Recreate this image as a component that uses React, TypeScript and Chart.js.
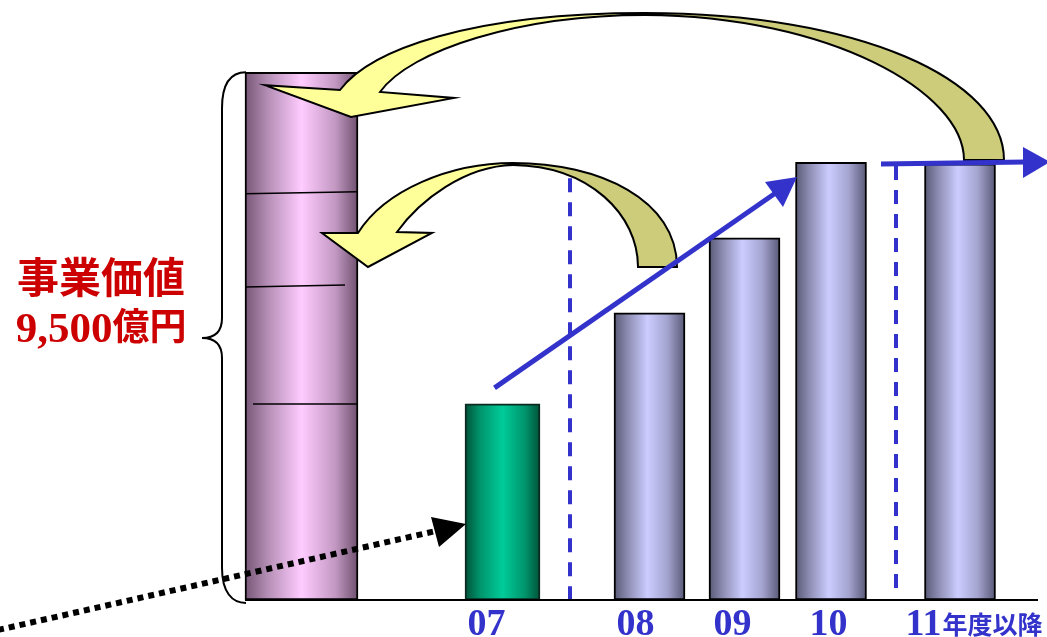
import React, { useEffect, useRef } from 'react';
import { Chart, registerables } from 'chart.js';

Chart.register(...registerables);

// ---- data ----
const periodLabels = ['07', '08', '09', '10', '11'];
const periodSuffix = '年度以降';
const periodPositions = [0, 1.47, 2.42, 3.285, 4.575];
const periodLabelPositions = [-0.16, 1.33, 2.3, 3.26, 4.21];
const actualValues = [3530];
const forecastValues = [5170, 6520, 7880, 7850];
const enterpriseValueLabel = '事業価値';
const enterpriseValueNumber = '9,500';
const enterpriseValueUnit = '億円';
const enterpriseValue = 9500;
const enterpriseValuePosition = -2.01;
const enterpriseValueDividers = [3530, 5650, 7330];
const periodDividerPositions = [0.675, 3.935];
const xMin = -5.025;
const xMax = 5.445;
const yMax = 10800;

const PURPLE_W = 113;
const GREEN_W = 75;
const BLUE_W = 71;
const BLUE = '#3333cc';

type Stop = [number, string];
const purpleStops: Stop[] = [[0, '#765676'], [0.2, '#b48eb4'], [0.5, '#ffccff'], [0.8, '#c298c2'], [1, '#6e506e']];
const blueStops: Stop[] = [[0, '#585876'], [0.2, '#8e8eb4'], [0.47, '#ccccff'], [0.75, '#a4a4d0'], [1, '#585876']];
const greenStops: Stop[] = [[0, '#005238'], [0.2, '#00946c'], [0.5, '#00cc99'], [0.8, '#00946c'], [1, '#005238']];

function gradient(stops: Stop[], width: number) {
  return (ctx: any) => {
    if (ctx.type !== 'data' || !ctx.raw) return stops[2][1];
    const chart = ctx.chart;
    const xs = chart.scales && chart.scales.x;
    if (!xs) return stops[2][1];
    const cx = xs.getPixelForValue(ctx.raw.x);
    if (!Number.isFinite(cx)) return stops[2][1];
    const g = chart.ctx.createLinearGradient(cx - width / 2, 0, cx + width / 2, 0);
    stops.forEach(([o, c]) => g.addColorStop(o, c));
    return g;
  };
}

function arrowHead(c: CanvasRenderingContext2D, pts: number[][], color: string) {
  c.beginPath();
  c.moveTo(pts[0][0], pts[0][1]);
  for (let i = 1; i < pts.length; i++) c.lineTo(pts[i][0], pts[i][1]);
  c.closePath();
  c.fillStyle = color;
  c.fill();
}

const annotations = {
  id: 'annotations',
  afterDatasetsDraw(chart: any) {
    const c: CanvasRenderingContext2D = chart.ctx;
    const X = (v: number) => chart.scales.x.getPixelForValue(v);
    const Y = (v: number) => chart.scales.y.getPixelForValue(v);
    const base = Y(0);
    const pL = X(enterpriseValuePosition) - PURPLE_W / 2;
    const pR = X(enterpriseValuePosition) + PURPLE_W / 2;
    const pTop = Y(enterpriseValue);
    c.save();

    // dividers inside enterprise-value bar
    c.strokeStyle = '#000';
    c.lineWidth = 1.5;
    enterpriseValueDividers.forEach((v, i) => {
      const y = Y(v);
      c.beginPath();
      const x0 = i === 0 ? pL + 8 : pL;
      const x1 = i === 1 ? pR - 13 : pR;
      c.moveTo(x0, y + (i === 0 ? 0 : 1));
      c.lineTo(x1, y - (i === 0 ? 0 : 1));
      c.stroke();
    });

    // dashed period dividers
    c.strokeStyle = BLUE;
    c.lineWidth = 4;
    c.setLineDash([14, 10]);
    const dashTops = [Y(forecastValues[2]) + 16, Y(forecastValues[3]) + 2];
    periodDividerPositions.forEach((p, i) => {
      c.beginPath();
      c.moveTo(X(p), dashTops[i]);
      c.lineTo(X(p), base - (i === 0 ? 0 : 10));
      c.stroke();
    });
    c.setLineDash([]);

    // small curved arrow (from 08-10 area to bar)
    const yellow = '#ffff99';
    const khaki = '#cccc7a';
    c.lineWidth = 2;
    c.strokeStyle = '#000';
    c.lineJoin = 'miter';
    c.beginPath();
    c.moveTo(513, 163);
    c.bezierCurveTo(600, 163, 677, 200, 677, 267);
    c.lineTo(638, 267);
    c.bezierCurveTo(638, 215, 590, 166, 513, 165);
    c.closePath();
    c.fillStyle = khaki;
    c.fill();
    c.stroke();
    c.beginPath();
    c.moveTo(513, 163);
    c.bezierCurveTo(450, 163, 385, 190, 358, 233);
    c.lineTo(322, 233);
    c.lineTo(368, 267);
    c.lineTo(432, 233);
    c.lineTo(397, 232);
    c.bezierCurveTo(420, 200, 465, 166, 513, 165);
    c.closePath();
    c.fillStyle = yellow;
    c.fill();
    c.stroke();

    // big curved arrow (from 11 to enterprise value bar)
    c.beginPath();
    c.moveTo(645, 13);
    c.bezierCurveTo(860, 13, 1004, 80, 1004, 160);
    c.lineTo(964, 160);
    c.bezierCurveTo(964, 92, 830, 16, 645, 15);
    c.closePath();
    c.fillStyle = khaki;
    c.fill();
    c.stroke();
    c.beginPath();
    c.moveTo(645, 13);
    c.bezierCurveTo(470, 13, 370, 50, 340, 90);
    c.lineTo(pL + 20, pTop + 13);
    c.lineTo(351, 117);
    c.lineTo(454, 98);
    c.lineTo(380, 92);
    c.bezierCurveTo(410, 50, 520, 15, 645, 15);
    c.closePath();
    c.fillStyle = yellow;
    c.fill();
    c.stroke();

    // blue trend arrows
    c.strokeStyle = BLUE;
    c.lineWidth = 5;
    c.lineCap = 'butt';
    c.beginPath();
    c.moveTo(X(periodPositions[0]) - 8, Y(actualValues[0]) - 16);
    c.lineTo(777, 192);
    c.stroke();
    arrowHead(c, [[765, 182], [797, 177], [783, 207]], BLUE);
    c.beginPath();
    c.moveTo(881, 164);
    c.lineTo(1025, 162);
    c.stroke();
    arrowHead(c, [[1023, 147], [1050, 162], [1023, 178]], BLUE);

    // dotted black arrow into 07 bar
    c.strokeStyle = '#000';
    c.lineWidth = 6;
    c.setLineDash([6, 5]);
    c.beginPath();
    c.moveTo(-2, 630);
    c.lineTo(436, 531);
    c.stroke();
    c.setLineDash([]);
    arrowHead(c, [[431, 517], [X(periodPositions[0]) - GREEN_W / 2 + 1, 524], [439, 547]], '#000');

    // curly brace
    c.strokeStyle = '#000';
    c.lineWidth = 2;
    c.beginPath();
    c.moveTo(pL + 1, pTop);
    c.bezierCurveTo(pL - 14, pTop, pL - 23, pTop + 10, pL - 23, pTop + 36);
    c.lineTo(pL - 23, 318);
    c.bezierCurveTo(pL - 23, 332, pL - 31, 338, pL - 43, 338);
    c.bezierCurveTo(pL - 31, 338, pL - 23, 344, pL - 23, 358);
    c.lineTo(pL - 23, base - 32);
    c.bezierCurveTo(pL - 23, base - 8, pL - 13, base + 3, pL + 1, base + 3);
    c.stroke();

    // baseline axis
    c.strokeStyle = '#000';
    c.lineWidth = 2;
    c.beginPath();
    c.moveTo(pL, base);
    c.lineTo(1038, base);
    c.stroke();

    // enterprise value label
    c.fillStyle = '#cc0000';
    c.textBaseline = 'alphabetic';
    c.textAlign = 'left';
    c.font = 'bold 42px "Noto Sans CJK JP"';
    const w1 = c.measureText(enterpriseValueLabel).width;
    c.fillText(enterpriseValueLabel, 101 - w1 / 2, 293);
    c.font = 'bold 43px "Liberation Serif"';
    const wn = c.measureText(enterpriseValueNumber).width;
    c.font = 'bold 37px "Noto Sans CJK JP"';
    const wu = c.measureText(enterpriseValueUnit).width;
    const start = 101 - (wn + wu) / 2;
    c.font = 'bold 43px "Liberation Serif"';
    c.fillText(enterpriseValueNumber, start, 342);
    c.font = 'bold 37px "Noto Sans CJK JP"';
    c.fillText(enterpriseValueUnit, start + wn, 340);

    // period labels
    c.fillStyle = BLUE;
    periodLabels.forEach((lab, i) => {
      c.font = 'bold 38px "Liberation Serif"';
      const w = c.measureText(lab).width;
      const lx = X(periodLabelPositions[i]) - w / 2;
      c.fillText(lab, lx, 635);
      if (i === periodLabels.length - 1) {
        c.font = 'bold 25px "Noto Sans CJK JP"';
        c.fillText(periodSuffix, lx + w + 1, 634);
      }
    });

    c.restore();
  },
};

export default function App() {
  const ref = useRef<HTMLCanvasElement | null>(null);
  useEffect(() => {
    if (!ref.current) return;
    const chart = new Chart(ref.current, {
      type: 'bar',
      data: {
        datasets: [
          {
            label: enterpriseValueLabel,
            data: [{ x: enterpriseValuePosition, y: enterpriseValue }],
            barThickness: PURPLE_W,
            backgroundColor: gradient(purpleStops, PURPLE_W),
            borderColor: '#000',
            borderWidth: 2,
            borderSkipped: false,
          },
          {
            label: periodLabels[0],
            data: actualValues.map((v, i) => ({ x: periodPositions[i], y: v })),
            barThickness: GREEN_W,
            backgroundColor: gradient(greenStops, GREEN_W),
            borderColor: '#0a2a20',
            borderWidth: 2,
            borderSkipped: false,
          },
          {
            label: 'forecast',
            data: forecastValues.map((v, i) => ({ x: periodPositions[i + 1], y: v })),
            barThickness: BLUE_W,
            backgroundColor: gradient(blueStops, BLUE_W),
            borderColor: '#000',
            borderWidth: 2,
            borderSkipped: false,
          },
        ] as any,
      },
      options: {
        responsive: false,
        animation: false,
        layout: { padding: { left: 0, right: 0, top: 0, bottom: 37 } },
        datasets: { bar: { grouped: false } } as any,
        plugins: { legend: { display: false }, tooltip: { enabled: false } },
        scales: {
          x: { type: 'linear', min: xMin, max: xMax, offset: false, bounds: 'ticks', display: false },
          y: { min: 0, max: yMax, display: false },
        },
      },
      plugins: [annotations],
    });
    return () => chart.destroy();
  }, []);
  return (
    <div style={{ position: 'absolute', left: 0, top: 0, width: 1047, height: 637, background: '#fff' }}>
      <canvas ref={ref} width={1047} height={637} />
    </div>
  );
}
